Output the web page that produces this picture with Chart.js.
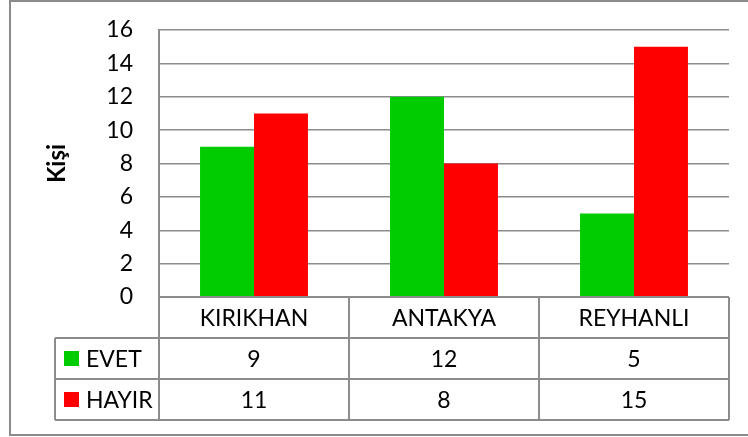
<!DOCTYPE html>
<html>
<head>
<meta charset="utf-8">
<script src="https://cdn.jsdelivr.net/npm/chart.js@4/dist/chart.umd.min.js"></script>
<style>
  html, body { margin: 0; padding: 0; background: #fff; }
  #wrap { width: 748px; height: 437px; }
</style>
</head>
<body>
<div id="wrap"><canvas id="chart"></canvas></div>
<script>
const categories = ['KIRIKHAN', 'ANTAKYA', 'REYHANLI'];
const evet = [9, 12, 5];
const hayir = [11, 8, 15];
const seriesNames = ['EVET', 'HAYIR'];
const seriesColors = ['#00cc00', '#ff0000'];

const FONT = 'Lato, Carlito, Calibri, sans-serif';
const FONT_SIZE = 23;
const LINE = '#8c8c8c';

// frame around the whole chart + data table under the plot
const tablePlugin = {
    id: 'dataTable',
    beforeDraw(chart) {
        const ctx = chart.ctx;
        ctx.save();
        ctx.strokeStyle = LINE;
        ctx.lineWidth = 2;
        ctx.strokeRect(10, 1, 760, 434);
        ctx.restore();
    },
    afterDraw(chart) {
        const ctx = chart.ctx;
        const area = chart.chartArea;
        const xs = chart.scales.x;
        const rowH = 41;
        const legendLeft = 55;
        const colW = (area.right - area.left) / categories.length;
        const top = area.bottom;
        const values = [evet, hayir];

        ctx.save();
        ctx.strokeStyle = LINE;
        ctx.lineWidth = 2;
        ctx.beginPath();
        // horizontal rules
        ctx.moveTo(area.left, top); ctx.lineTo(area.right, top);
        for (let r = 1; r <= 3; r++) {
            ctx.moveTo(legendLeft, top + rowH * r); ctx.lineTo(area.right, top + rowH * r);
        }
        // vertical rules
        ctx.moveTo(legendLeft, top + rowH); ctx.lineTo(legendLeft, top + rowH * 3);
        for (let c = 0; c <= categories.length; c++) {
            const x = area.left + colW * c;
            ctx.moveTo(x, top); ctx.lineTo(x, top + rowH * 3);
        }
        ctx.stroke();

        ctx.fillStyle = '#000';
        ctx.font = FONT_SIZE + 'px ' + FONT;
        ctx.textAlign = 'center';
        ctx.textBaseline = 'middle';
        categories.forEach((cat, i) => {
            ctx.fillText(cat, xs.getPixelForValue(i), top + rowH / 2 + 1);
        });
        values.forEach((vals, r) => {
            const cy = top + rowH * (r + 1) + rowH / 2 + 1;
            vals.forEach((v, i) => ctx.fillText(String(v), xs.getPixelForValue(i), cy));
        });
        // legend keys
        ctx.textAlign = 'left';
        seriesNames.forEach((name, r) => {
            const cy = top + rowH * (r + 1) + rowH / 2;
            ctx.fillStyle = seriesColors[r];
            ctx.fillRect(64, cy - 7.5, 15, 15);
            ctx.fillStyle = '#000';
            ctx.fillText(name, 86, cy + 1);
        });
        ctx.restore();
    }
};

new Chart(document.getElementById('chart'), {
    type: 'bar',
    data: {
        labels: categories,
        datasets: [
            { label: seriesNames[0], data: evet, backgroundColor: seriesColors[0] },
            { label: seriesNames[1], data: hayir, backgroundColor: seriesColors[1] }
        ]
    },
    options: {
        responsive: true,
        maintainAspectRatio: false,
        animation: false,
        layout: { padding: { top: 30, right: 19, bottom: 140, left: 0 } },
        plugins: { legend: { display: false }, tooltip: { enabled: false } },
        datasets: { bar: { categoryPercentage: 0.568, barPercentage: 1.0 } },
        scales: {
            x: {
                grid: { display: false },
                border: { display: false },
                ticks: { display: false },
                afterFit(scale) { scale.height = 0; }
            },
            y: {
                min: 0,
                max: 16,
                ticks: { stepSize: 2, padding: 26, color: '#000', font: { family: FONT, size: FONT_SIZE } },
                grid: { color: LINE, lineWidth: 1.5, drawTicks: false },
                border: { color: LINE, width: 2 },
                title: {
                    display: true,
                    text: 'Kişi',
                    color: '#000',
                    font: { family: FONT, size: 24, weight: 'bold' },
                    padding: { top: 43, bottom: 0 }
                },
                afterFit(scale) {
                    scale.width = 159;
                    scale.paddingTop = 0;
                    scale.paddingBottom = 0;
                }
            }
        }
    },
    plugins: [tablePlugin]
});
</script>
</body>
</html>
